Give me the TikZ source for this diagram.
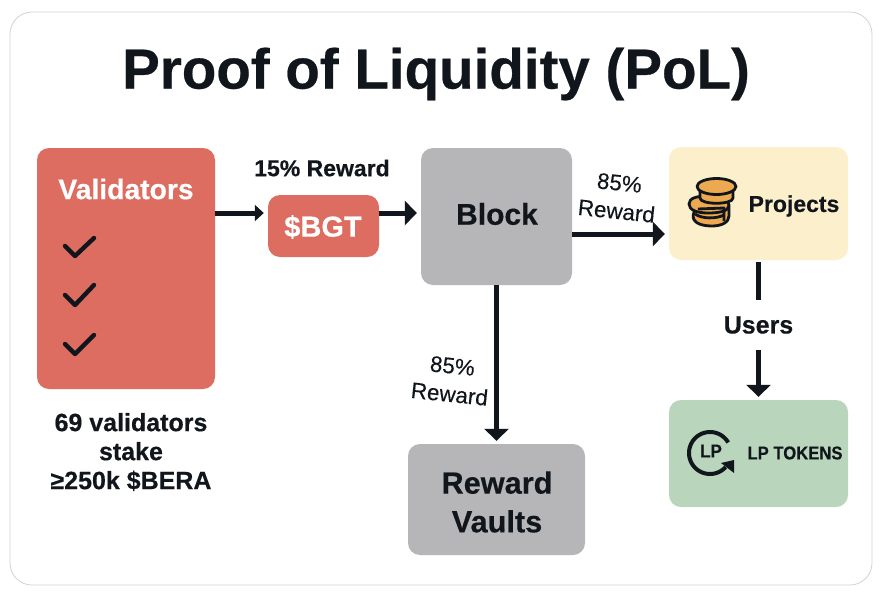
\documentclass[tikz,border=0pt]{standalone}
\usepackage{fontspec}
\setmainfont{Liberation Sans}[BoldFeatures={FakeBold=0.4}]
\newfontfamily\medfont{Liberation Sans}[FakeBold=0.25]
\usetikzlibrary{arrows.meta}
\definecolor{ink}{HTML}{11161C}
\definecolor{redbox}{HTML}{DC6D60}
\definecolor{greybox}{HTML}{B6B6B8}
\definecolor{yellowbox}{HTML}{FCF0CC}
\definecolor{greenbox}{HTML}{B9D6BC}
\definecolor{coin}{HTML}{EDA950}
\definecolor{framec}{HTML}{CBD6D3}
\tikzset{
  x=1pt,y=-1pt,
  panel/.style={rounded corners=12pt,inner sep=0pt,draw=none},
  lab/.style={font=\bfseries\fontsize{#1}{#1}\selectfont,text=ink,align=center,inner sep=0pt},
  lab/.default=23,
  thinlab/.style={font=\medfont\fontsize{22.4}{22.4}\selectfont,text=ink,align=center,inner sep=0pt,rotate=-6},
  conn/.style={draw=ink,line width=5pt,-{Triangle[length=12pt,width=24pt]}},
  smallconn/.style={draw=ink,line width=5pt,-{Triangle[length=9pt,width=16pt]}},
  plainconn/.style={draw=ink,line width=5pt},
  tick/.style={draw=ink,line width=4.4pt,line cap=round,line join=round},
  coinl/.style={draw=ink,line width=2.8pt,fill=coin,line join=round},
}
\begin{document}
\begin{tikzpicture}
\useasboundingbox (0,0) rectangle (892,600);
\fill[white] (0,0) rectangle (892,600);
\draw[framec,line width=0.8pt,rounded corners=22pt] (10,12) rectangle (872,585);

\node[lab=56.5] (title) at (436,74) {Proof of Liquidity (PoL)};

\node[panel,fill=redbox,minimum width=178pt,minimum height=241pt] (val) at (126,268.5) {};
\node[lab=28.3,text=white] (valt) at (126,189) {Validators};
\draw[tick] (65,246) -- (75,256) -- (94,238);
\draw[tick] (65,295) -- (75,305) -- (94,285);
\draw[tick] (65,344) -- (75,354) -- (94,335);
\node[lab=25] (stake) at (131,452) {69 validators\\[4pt]stake\\[4pt]≥250k \$BERA};

\node[panel,fill=redbox,minimum width=111pt,minimum height=62pt] (bgt) at (323.5,226) {};
\node[lab=29,text=white] (bgtt) at (323,227) {\$BGT};
\node[lab=23] (r15) at (322,168) {15\% Reward};

\node[panel,fill=greybox,minimum width=151pt,minimum height=137pt] (block) at (496.5,216.5) {};
\node[lab=30] (blockt) at (497,214) {Block};

\node[panel,fill=yellowbox,minimum width=179pt,minimum height=113pt] (proj) at (758.5,203.5) {};
\node[lab=23] (projt) at (794,206) {Projects};

\node[panel,fill=greybox,minimum width=177pt,minimum height=111pt] (vault) at (496.5,499.5) {};
\node[lab=30.7] (vaultt) at (497,502) {Reward\\[8pt]Vaults};

\node[panel,fill=greenbox,minimum width=179pt,minimum height=107pt] (lp) at (758.5,453.5) {};
\node[lab=18.5,xscale=.9] (lpt) at (795,453) {LP TOKENS};

\node[lab=25] (users) at (758.5,325) {Users};
\node[thinlab] (r85a) at (618,197) {85\%\\[6pt]Reward};
\node[thinlab] (r85b) at (451,380) {85\%\\[6pt]Reward};

\draw[smallconn] ([yshift=55.5pt]val.east) -- ([yshift=13pt,xshift=-4pt]bgt.west);
\draw[conn] ([yshift=13pt]bgt.east) -- ([yshift=3.5pt,xshift=-4pt]block.west);
\draw[conn] ([yshift=-17.5pt]block.east) -- ([yshift=-30.5pt,xshift=-4pt]proj.west);
\draw[conn] (block.south) -- ([yshift=3pt]vault.north);
\draw[plainconn] ([yshift=-2pt]proj.south) -- ([yshift=16pt]users.north);
\draw[conn] ([yshift=-16pt]users.south) -- ([yshift=3pt]lp.north);

% coin stack
\draw[coinl] (694,212) .. controls (690,222) and (700,226) .. (712,226) .. controls (722,226) and (729,222) .. (729,216) -- (729,206) -- (700,206) -- cycle;
\draw[coinl] (695,214) .. controls (702,219) and (716,219) .. (724,215);
\draw[coinl] (689,204) .. controls (689,198) and (697,196) .. (708,196) .. controls (722,196) and (729,200) .. (729,205) .. controls (729,211) and (720,213) .. (708,213) .. controls (697,213) and (689,210) .. (689,204) -- cycle;
\draw[coinl] (700,187) -- (700,198) .. controls (700,205) and (733,205) .. (733,198) -- (733,187) -- cycle;
\draw[coinl] (716.5,186.5) ellipse (19.5pt and 8pt);
\draw[draw=ink,line width=2.8pt,line join=round] (698,209) -- (724,208) -- (724,221);

% LP icon
\draw[draw=ink,line width=4pt] plot[domain=30:318,samples=50] ({710+21*cos(\x)},{453-21*sin(\x)});
\fill[ink] (721,463) -- (734,460) -- (734,473) -- cycle;
\node[lab=18.5,xscale=.92] (lpi) at (711,451) {LP};
\end{tikzpicture}
\end{document}
